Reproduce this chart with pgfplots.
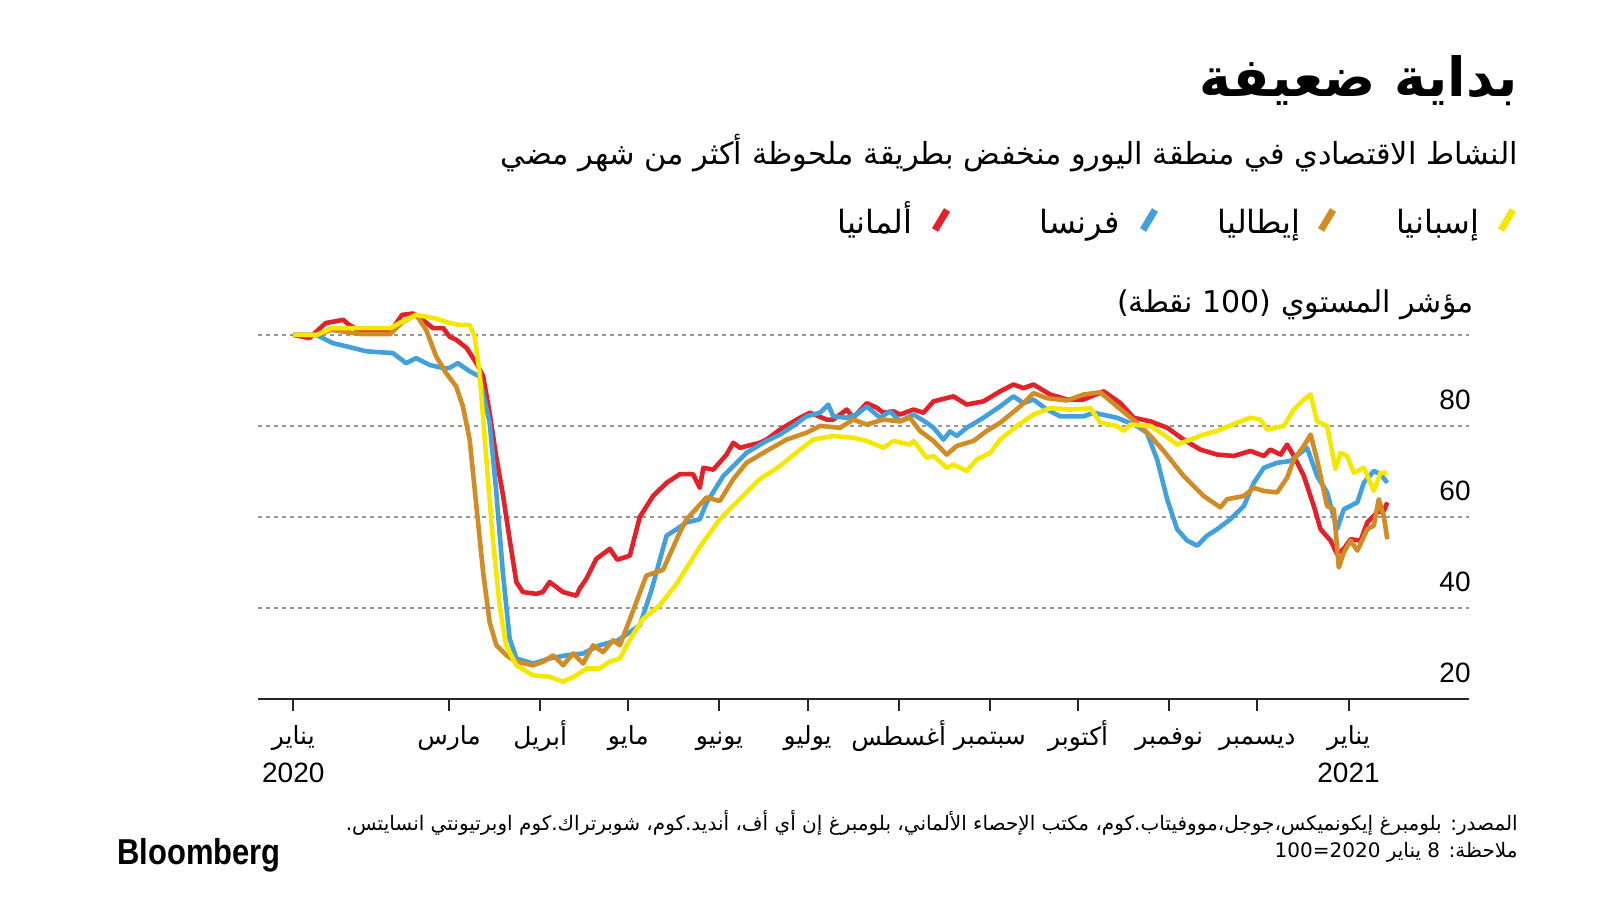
\documentclass[border=0pt]{standalone}
\usepackage{fontspec}
\setmainfont{Liberation Sans}
\newfontfamily\arabicfont[Script=Arabic]{DejaVu Sans}
\TeXXeTstate=1
\usepackage{pgfplots}
\pgfplotsset{compat=1.18}
\newcommand{\AR}[1]{{\arabicfont\beginR #1\endR}}
\newcommand{\MO}[1]{\rule{0pt}{12pt}\AR{#1}}
\newcommand{\YR}[1]{{\fontsize{14}{16}\selectfont #1}}
\definecolor{de}{RGB}{228,32,40}
\definecolor{fr}{RGB}{66,160,220}
\definecolor{it}{RGB}{210,140,38}
\definecolor{es}{RGB}{245,232,0}
\definecolor{gridc}{RGB}{150,150,150}

% day 0 = 1 Jan 2020; data rebased 8 Jan 2020 = 100
\pgfplotstableread{
d v
7 100
12.5 99.3
18 102.6
24 103.3
26 102.2
30 100.7
40 100.7
44 104.4
47.7 104.7
51 103.3
54.5 101.5
58 101.5
60.2 99.6
62.5 98.9
66 97.1
69.3 93.8
71.6 90.9
73.8 82.9
76 73.4
78.4 64.6
80.6 55.1
82.9 45.7
85.1 43.5
89.7 43.1
91.9 43.5
94.2 45.7
96.5 44.6
98.7 43.5
103.3 42.7
104.4 44.2
106.7 46.4
110.1 50.8
114.7 53
117.2 50.6
121.5 51.5
124.9 60
129.4 64.6
134 67.5
138.5 69.4
143 69.4
145.3 66.4
146.5 70.8
149.9 70.4
154.4 73.7
156.7 76.3
158.9 75.2
165.7 76.3
168 77
172.6 79.2
179.4 81.8
182.8 82.9
188.4 81.4
190.7 81.4
195.3 83.6
197.5 81.8
202.1 85
205.5 84
207.7 82.9
211.2 83.2
213.4 82.5
218 83.6
221.4 82.9
224.8 85.4
231.6 86.5
236.1 84.7
241.8 85.4
247.5 87.6
252 89.1
255.4 88.3
258.8 89.1
264.5 86.9
270.2 85.8
275.8 85.8
282.7 87.6
288.4 85
292.9 81.8
298.6 81
304.3 79.6
309.9 77
315.6 74.8
321.3 73.7
327 73.4
332.6 74.5
337.2 73.4
339.4 74.8
342.9 73.7
345.1 75.9
347.4 73.4
350.8 69
354.2 62.4
356.5 57.3
359.9 54.8
362.1 51.9
364.4 53
366.7 55.1
370.1 54.8
372.4 58.8
375.8 61
378 61.3
379.2 63.2
}\germany

\pgfplotstableread{
d v
7 100
14.8 100
20.4 98.2
25 97.5
31.8 96.4
40.9 96
45.4 93.8
48.8 94.9
53.4 93.4
58 92.7
60 92.7
63 93.8
67 92
70.3 90.9
73.8 80.7
76 66
78.3 47.8
80.6 33.3
82.9 28.9
88.6 27.8
94.2 28.9
99.9 29.6
105.6 30
111.2 31.8
117.5 32.9
124.9 36.2
128.8 43.8
134 55.9
137.4 57.3
140.8 58.8
145.3 59.5
147.6 63.1
153.3 69
158.9 72.6
161.2 74.1
168 76.7
172.6 78.1
177.1 80
181.6 82.1
186.2 82.9
189 84.7
190.7 82.1
195.3 81.8
198.7 82.5
202.1 84.3
206.6 81.8
210 83.2
213.4 81
218 82.5
222.5 80.7
224.8 79.6
228.2 77
230.4 78.8
232.7 77.8
236.1 79.6
241.8 81.8
247.5 84.3
252 86.5
255.4 85
258.8 85.8
263.4 83.6
267.9 82.1
275.8 82.1
279.3 82.9
287.2 81.8
294 80
297.4 78.5
300.9 72.6
304.3 63.9
307.7 57.3
311.1 54.8
314.5 53.7
317.9 55.9
321.3 57.3
325.8 59.5
330.4 62.4
333.8 67.5
337.2 70.8
341.7 71.9
346.3 72.3
349.7 74.1
351.9 75.2
355.3 69
358.7 65.4
362.1 57.3
364.4 61.7
369 63.2
371.2 67.5
374.6 70.1
376.9 69.4
379.2 67.5
}\france

\pgfplotstableread{
d v
7 100
15 100
20 101.1
30 100.2
40 100.2
44.3 102.9
48.8 104.4
52.2 101.1
55.6 95.3
59 91.6
62.4 88.7
64.7 84.3
67 77
69.3 62.4
71.6 47.8
73.8 36.9
76.1 31.8
79.5 29.6
82.9 28.2
88.6 27.4
92 28.2
95.4 29.6
98.8 27.4
102.2 30
105.6 27.8
109 31.8
112.4 30.3
115.8 32.9
118.1 31.8
121.5 37.5
127.1 47.1
132.8 48.4
138.5 56.6
140.8 59.5
147.6 64.3
152.1 63.5
156.7 68.3
161.2 71.9
168 74.5
174.8 77
181.6 78.5
186.2 80
193 79.6
197.5 81.4
202.1 80.3
207.7 81.4
213.4 81
216.8 81.8
220.2 78.9
224.8 76.7
229.3 73.7
232.7 75.6
238.4 76.7
242.9 78.9
247.5 80.7
254.3 84.3
258.8 87.2
263.4 86.1
270.2 85.6
275.8 86.9
281.5 87.4
287.2 84.3
294 80.7
298.6 77.8
303.1 74.5
309.9 69
316.7 64.6
322.4 62.1
324.7 63.9
330.4 64.6
333.8 66.4
337.2 65.7
341.7 65.4
345.1 68.6
347.4 72.6
350.8 75.6
353.1 78.1
355.3 72.6
358.7 62.4
361 61.7
362.7 48.9
364.4 52.2
366.7 54.8
369 52.6
372.4 57.3
374.6 58.1
376.3 63.9
378 60.2
379.2 55.1
}\italy

\pgfplotstableread{
d v
7 100
15 100
20 101.5
40 101.5
44 102.9
48.8 104.4
55.6 103.6
60.2 102.6
63.6 102.2
67 102.2
68.7 99.6
70.4 91.6
72.6 73.4
74.9 55.1
77.2 40.6
79.4 31.8
82.9 27.4
88.6 25.2
94.2 24.9
98.8 23.8
103.3 25.2
106.7 26.7
111.2 26.7
114.6 28.2
118.1 28.9
121.5 33
126 37.6
131.7 40.6
137.4 45.3
145.3 53.4
152.1 59.5
158.9 63.9
165.7 68.3
172.6 71.2
179.4 74.8
183.9 77
190.7 77.8
197.5 77.4
202.1 76.7
207.7 75.2
211.2 76.7
216.8 75.9
218 76.7
222.5 73
224.8 73.4
229.3 70.8
231.6 71.5
236.1 70.1
239.5 72.6
244.1 74.1
247.5 77
253.2 80
258.8 82.5
264.5 83.9
271.3 83.6
278.2 83.9
281.6 80.7
287.2 80
289.5 78.9
291.8 80.3
298.6 80
303.1 78.1
307.7 75.9
312.2 77
316.7 78.1
321.3 78.9
328.1 80.7
332.6 81.8
336 81.4
338.3 79.2
344 80
347.4 83.6
350.8 85.8
353.1 86.9
355.3 81
358.7 80
361.6 70.5
363.3 74.1
365.5 73.4
367.8 69.7
371.2 70.8
374.6 65.7
376.9 69.7
379.2 69.7
}\spain

\begin{document}
\begin{tikzpicture}
\path[use as bounding box] (0pt,0pt) rectangle (800pt,450pt);

\begin{scope}[x=0.5pt,y=0.5pt]
% title, subtitle
\node[anchor=base east,inner sep=0pt,font=\fontsize{27}{30}\selectfont\bfseries] at (1518,803) {\AR{بداية ضعيفة}};
\node[anchor=base east,inner sep=0pt,font=\fontsize{15.2}{18}\selectfont] at (1518,735) {\AR{النشاط الاقتصادي في منطقة اليورو منخفض بطريقة ملحوظة أكثر من شهر مضي}};

% legend
\foreach \c/\sx/\tx/\name in {es/1507/1480/إسبانيا, it/1327/1301/إيطاليا, fr/1149/1120/فرنسا, de/941/913/ألمانيا}{
  \draw[\c,line width=3.5pt] (\sx-6,670) -- (\sx+6,690);
  \node[anchor=base east,inner sep=0pt,font=\fontsize{16}{19}\selectfont] at (\tx,666) {\AR{\name}};
}

% y label
\node[anchor=base east,inner sep=0pt,font=\fontsize{15}{18}\selectfont] at (1474,587) {\AR{مؤشر المستوي (\beginL 100\endL{} نقطة)}};

% source and note
\node[anchor=base east,inner sep=0pt,font=\fontsize{10}{12}\selectfont] at (1518,70) {\AR{المصدر: بلومبرغ إيكونميكس،جوجل،مووفيتاب.كوم، مكتب الإحصاء الألماني، بلومبرغ إن أي أف، أنديد.كوم، شوبرتراك.كوم اوبرتيونتي انسايتس.}};
\node[anchor=base east,inner sep=0pt,font=\fontsize{10}{12}\selectfont] at (1518,43) {\AR{ملاحظة: \beginL 8\endL{} يناير \beginL 2020=100\endL}};
\node[anchor=base west,inner sep=0pt,font=\fontsize{18}{20}\selectfont\bfseries] at (117,36) {\scalebox{0.86}[1]{Bloomberg}};
\end{scope}

\begin{axis}[
  at={(129pt,100.5pt)}, anchor=south west,
  scale only axis, width=605.5pt, height=195.7pt,
  xmin=-5, xmax=407, ymin=20, ymax=106,
  axis line style={draw=none},
  clip=false,
  xtick={7,60,91,121,152,182,213,244,274,305,335,366},
  xticklabels={{\MO{يناير}\\[-1pt]\YR{2020}},\MO{مارس},\MO{أبريل},\MO{مايو},\MO{يونيو},\MO{يوليو},\MO{أغسطس},\MO{سبتمبر},\MO{أكتوبر},\MO{نوفمبر},\MO{ديسمبر},{\MO{يناير}\\[-1pt]\YR{2021}}},
  xtick pos=bottom, tick align=outside, major tick length=6pt,
  xtick style={black!85,line width=1pt},
  xticklabel style={font=\fontsize{12.5}{20}\selectfont,align=center,anchor=north,yshift=-1pt},
  ytick={20,40,60,80,100},
  yticklabels={20,40,60,80,},
  ytick style={draw=none},
  yticklabel pos=right,
  yticklabel style={font=\fontsize{14}{16}\selectfont,anchor=south east,xshift=-5pt,yshift=8pt,inner sep=0pt},
  ymajorgrids,
  major grid style={gridc,line width=1pt,dash pattern=on 2pt off 2pt},
  every axis plot/.append style={line width=2.3pt,line join=round},
]
\addplot[de] table[x=d,y=v]{\germany};
\addplot[fr] table[x=d,y=v]{\france};
\addplot[it] table[x=d,y=v]{\italy};
\addplot[es] table[x=d,y=v]{\spain};
\draw[black!85,line width=1pt] (rel axis cs:0,0) -- (rel axis cs:1,0);
\end{axis}
\end{tikzpicture}
\end{document}
